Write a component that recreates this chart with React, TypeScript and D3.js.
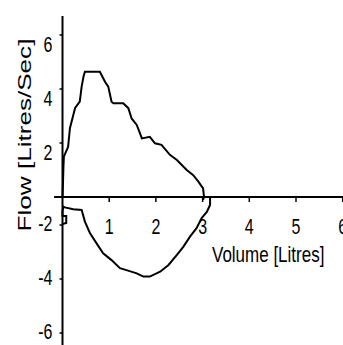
import * as d3 from "d3";

// expiratory limb (volume L, flow L/s)
const expVolume = [0, 0.01, 0.02, 0.03, 0.12, 0.16, 0.27, 0.37, 0.41, 0.45, 0.48, 0.8, 0.91, 0.98, 1.05, 1.09, 1.3, 1.41, 1.48, 1.59, 1.7, 1.87, 1.98, 2.12, 2.3, 2.45, 2.66, 2.8, 2.91, 3.01, 3.03, 3.01];
const expFlow = [0, 0.5, 1.12, 1.5, 1.86, 2.56, 3.3, 3.53, 4.09, 4.46, 4.64, 4.64, 4.27, 4.09, 3.53, 3.47, 3.47, 3.29, 2.91, 2.67, 2.17, 2.23, 1.99, 1.93, 1.56, 1.37, 1.0, 0.81, 0.57, 0.32, 0.01, -0.21];

// inspiratory limb, from end of expiration back to start
const insVolume = [3.16, 3.16, 3.09, 2.98, 2.87, 2.73, 2.59, 2.45, 2.27, 2.09, 1.87, 1.73, 1.59, 1.37, 1.23, 1.05, 0.87, 0.73, 0.59, 0.48, 0.41, 0.23, 0.05, 0.02, 0.0, 0.0, 0.08, 0.08, 0.0];
const insFlow = [-0.07, -0.57, -1.07, -1.5, -2.12, -2.43, -2.8, -3.11, -3.48, -3.73, -3.91, -3.91, -3.79, -3.67, -3.6, -3.3, -3.05, -2.68, -2.31, -1.76, -0.93, -0.88, -0.74, -0.69, -1.0, -1.36, -1.36, -1.86, -1.93];

const xTicks = [1, 2, 3, 4, 5, 6];
const yTicks = [6, 4, 2, -2, -4, -6];

const W = 343;
const H = 345;

export default function App() {
  const x = d3.scaleLinear().domain([0, 6]).range([62.5, 342.7]);
  // the original axis is not uniform below zero
  const y = d3.scaleLinear().domain([-6, -2, 0, 6]).range([333, 225, 197, 35]);

  const line = d3
    .line<[number, number]>()
    .x((d) => x(d[0]))
    .y((d) => y(d[1]));

  const expPts = expVolume.map((v, i) => [v, expFlow[i]] as [number, number]);
  const insPts = insVolume.map((v, i) => [v, insFlow[i]] as [number, number]);

  const font = "'Liberation Sans', Arial, sans-serif";

  return (
    <svg
      width={W}
      height={H}
      style={{ position: "absolute", left: 0, top: 0, background: "#fff" }}
    >
      <rect width={W} height={H} fill="#fff" />
      {/* axes */}
      <line x1={x(-0.18)} x2={W} y1={y(0)} y2={y(0)} stroke="#000" strokeWidth={2} />
      <line x1={x(0)} x2={x(0)} y1={y(6.7)} y2={H} stroke="#000" strokeWidth={2} />
      {xTicks.map((t) => (
        <g key={"x" + t}>
          <line x1={x(t)} x2={x(t)} y1={y(0)} y2={y(0) + 5} stroke="#000" strokeWidth={1.5} />
          <text
            transform={`translate(${x(t)},${y(0) + 37}) scale(1,1.35)`}
            textAnchor="middle"
            fontFamily={font}
            fontSize={16}
            fill="#000"
          >
            {t}
          </text>
        </g>
      ))}
      {yTicks.map((t) => (
        <g key={"y" + t}>
          <line x1={x(0) - 3} x2={x(0)} y1={y(t)} y2={y(t)} stroke="#000" strokeWidth={1.5} />
          <text
            transform={`translate(${x(0) - 10},${y(t) + (t > 0 ? 9 : -2) + 8}) scale(1,1.35)`}
            textAnchor="end"
            fontFamily={font}
            fontSize={16}
            fill="#000"
          >
            {t}
          </text>
        </g>
      ))}
      {/* loop */}
      <path d={line(expPts) ?? ""} fill="none" stroke="#000" strokeWidth={2} />
      <path d={line(insPts) ?? ""} fill="none" stroke="#000" strokeWidth={2} />
      {/* titles */}
      <text
        transform="translate(212,262) scale(1,1.35)"
        fontFamily={font}
        fontSize={17}
        fill="#000"
      >
        Volume [Litres]
      </text>
      <text
        transform="translate(31,135) scale(1,1.45) rotate(-90)"
        textAnchor="middle"
        fontFamily={font}
        fontSize={18}
        fill="#000"
      >
        Flow [Litres/Sec]
      </text>
    </svg>
  );
}
